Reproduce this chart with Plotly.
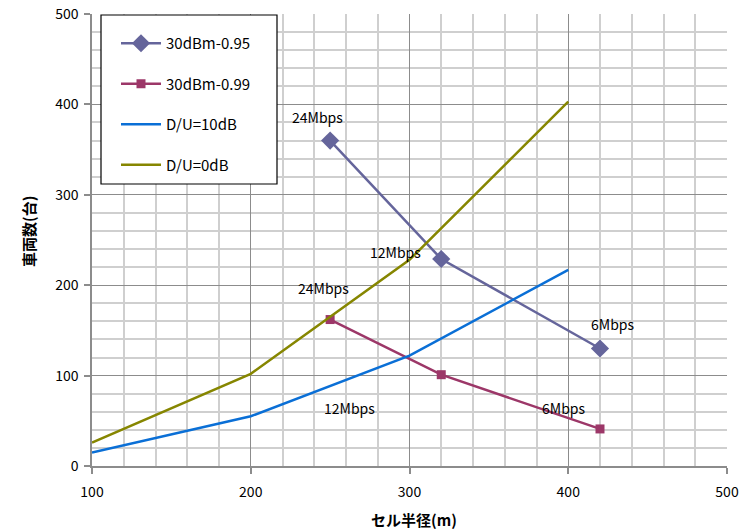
import plotly.graph_objects as go

# ---- data ----
x_095 = [250, 320, 420]
y_095 = [360, 229, 130]
x_099 = [250, 320, 420]
y_099 = [162, 101, 41]
x_du = [100, 200, 300, 400]
y_du10 = [15, 55, 122, 217]
y_du0 = [26, 102, 228, 403]

labels_095 = ["24Mbps", "12Mbps", "6Mbps"]
label_pos_095 = [(242, 386), (291, 237), (428, 157)]
labels_099 = ["24Mbps", "12Mbps", "6Mbps"]
label_pos_099 = [(246, 197), (262, 64), (397, 64)]

names = ["30dBm-0.95", "30dBm-0.99", "D/U=10dB", "D/U=0dB"]
colors = ["#65659b", "#9c3768", "#0a6fd6", "#868600"]

FONT = "Noto Sans CJK JP"
L, R, T, B = 92, 20, 14, 63
W, H = 747, 529
PW, PH = W - L - R, H - T - B

def px_x(p):
    return (p - L) / PW

def px_y(p):
    return 1 - (p - T) / PH

fig = go.Figure()
fig.add_trace(go.Scatter(x=x_095, y=y_095, name=names[0], mode="lines+markers",
                         line=dict(color=colors[0], width=2.5),
                         marker=dict(symbol="diamond", size=14, color=colors[0]),
                         legendgroup="a"))
fig.add_trace(go.Scatter(x=x_099, y=y_099, name=names[1], mode="lines+markers",
                         line=dict(color=colors[1], width=2.5),
                         marker=dict(symbol="square", size=9, color=colors[1]),
                         legendgroup="b"))
fig.add_trace(go.Scatter(x=x_du, y=y_du10, name=names[2], mode="lines",
                         line=dict(color=colors[2], width=2.5), legendgroup="c"))
fig.add_trace(go.Scatter(x=x_du, y=y_du0, name=names[3], mode="lines",
                         line=dict(color=colors[3], width=2.5), legendgroup="d"))

for t, (ax, ay) in zip(labels_095 + labels_099, label_pos_095 + label_pos_099):
    fig.add_annotation(x=ax, y=ay, text=t, showarrow=False,
                       font=dict(family=FONT, size=14, color="black"))

# axis titles
fig.add_annotation(x=px_x(414), y=px_y(519), xref="paper", yref="paper",
                   xanchor="center", yanchor="middle",
                   text="<b>セル半径(m)</b>", showarrow=False,
                   font=dict(family=FONT, size=15, color="black"))
fig.add_annotation(x=px_x(28), y=px_y(232), xref="paper", yref="paper",
                   xanchor="center", yanchor="middle",
                   text="<b>車両数(台)</b>", showarrow=False, textangle=-90,
                   font=dict(family=FONT, size=15, color="black"))

# legend frame
fig.add_shape(type="rect", xref="paper", yref="paper",
              x0=px_x(101), x1=px_x(277), y0=px_y(184), y1=px_y(15),
              line=dict(color="black", width=1.2), fillcolor="white", layer="above")

axis_common = dict(
    showline=True, linecolor="#8c8c8c", linewidth=1.5,
    ticks="outside", ticklen=6, tickcolor="#8c8c8c", tickwidth=1.5,
    showgrid=True, gridcolor="#8c8c8c", gridwidth=1.2,
    zeroline=False, automargin=False,
    tickfont=dict(family=FONT, size=14, color="black"),
    minor=dict(dtick=20, showgrid=True, gridcolor="#cfcfcf", gridwidth=1.5, ticks=""),
)

fig.update_layout(
    width=W, height=H,
    margin=dict(l=L, r=R, t=T, b=B),
    plot_bgcolor="white", paper_bgcolor="white",
    showlegend=True,
    legend=dict(x=px_x(116), y=px_y(27), xanchor="left", yanchor="top",
                bgcolor="rgba(0,0,0,0)", borderwidth=0,
                font=dict(family=FONT, size=15, color="black"),
                tracegroupgap=18, itemwidth=40,
                traceorder="grouped"),
    xaxis=dict(range=[100, 500], dtick=100, ticklabelstandoff=6, **axis_common),
    yaxis=dict(range=[0, 500], dtick=100, ticklabelstandoff=3, **axis_common),
)

fig.write_html("out.html")
